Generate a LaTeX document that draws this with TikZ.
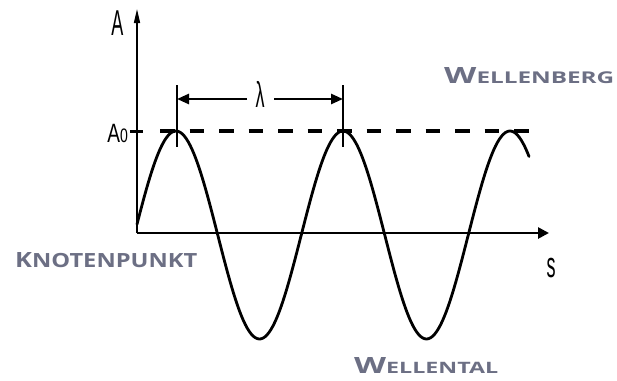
\documentclass[tikz,border=0pt]{standalone}
\usepackage{fontspec}
\usepackage{graphicx}
\usetikzlibrary{arrows.meta}
\newfontfamily\labfont{Open Sans}
\newfontfamily\axfont{Liberation Sans}
\definecolor{labgrey}{RGB}{108,111,132}
\newcommand{\mysc}[3]{{\fontsize{20}{20}\selectfont #1}{\fontsize{#3}{#3}\selectfont #2}}
\begin{document}
\begin{tikzpicture}[x=1pt,y=-1pt,
  wave/.style={line width=2.8pt},
  dim/.style={line width=1.5pt},
  lab/.style={text=labgrey,font=\labfont\bfseries,inner sep=0pt,anchor=base west},
  axlab/.style={font=\axfont\fontsize{36}{36}\selectfont,inner sep=0pt,xscale=0.5}]
\useasboundingbox (0,0) rectangle (617,380);
% axes
\coordinate (o) at (137,233);
\coordinate (ytop) at (137,9);
\coordinate (xend) at (549,233);
\draw[line width=1.5pt,-{Triangle[length=14pt,width=6pt]}] (o) -- (ytop);
\draw[line width=2.6pt,-{Triangle[length=11pt,width=11pt]}] (o) -- (xend);
% wave
\draw[wave,line cap=round,line join=round] plot[domain=137:529,samples=200,smooth] (\x,{235-104*sin(2.155689*(\x-134.25))});
% A0 tick and dashed line
\coordinate (t1) at (130,131);
\coordinate (t2) at (143,131);
\draw[line width=3pt] (t1) -- (t2);
\coordinate (d1) at (160,131);
\coordinate (d2) at (533,131);
\draw[line width=3.5pt,dash pattern=on 14.5pt off 15pt] (d1) -- (d2);
% lambda dimension
\coordinate (v1a) at (177,85);
\coordinate (v1b) at (177,147);
\coordinate (v2a) at (343,85);
\coordinate (v2b) at (343,147);
\draw[dim] (v1a) -- (v1b);
\draw[dim] (v2a) -- (v2b);
\node[axlab,inner sep=0pt] (lam) at (260,94) {λ};
\coordinate (ar1) at (177,99);
\coordinate (ar2) at (343,99);
\coordinate (g1) at (247,99);
\coordinate (g2) at (274,99);
\draw[line width=2.6pt,-{Triangle[length=12pt,width=10pt]}] (g1) -- (ar1);
\draw[line width=2.6pt,-{Triangle[length=12pt,width=10pt]}] (g2) -- (ar2);
% axis labels
\node[axlab] (A) at (117.5,23) {A};
\node[font=\axfont,inner sep=0pt,xscale=0.72,anchor=base east] (A0) at (128,142) {{\fontsize{26.5}{26.5}\selectfont A}{\fontsize{19.5}{19.5}\selectfont 0}};
\node[axlab] (s) at (551,268) {s};
% labels
\node[lab] (kp) at (15,267) {\resizebox{182pt}{15pt}{\mysc{K}{NOTENPUNKT}{18.6}}};
\node[lab] (wb) at (444,83) {\resizebox{170pt}{16pt}{\mysc{W}{ELLENBERG}{14.5}}};
\node[lab] (wt) at (354,373) {\resizebox{144pt}{16pt}{\mysc{W}{ELLENTAL}{14}}};
\end{tikzpicture}
\end{document}
